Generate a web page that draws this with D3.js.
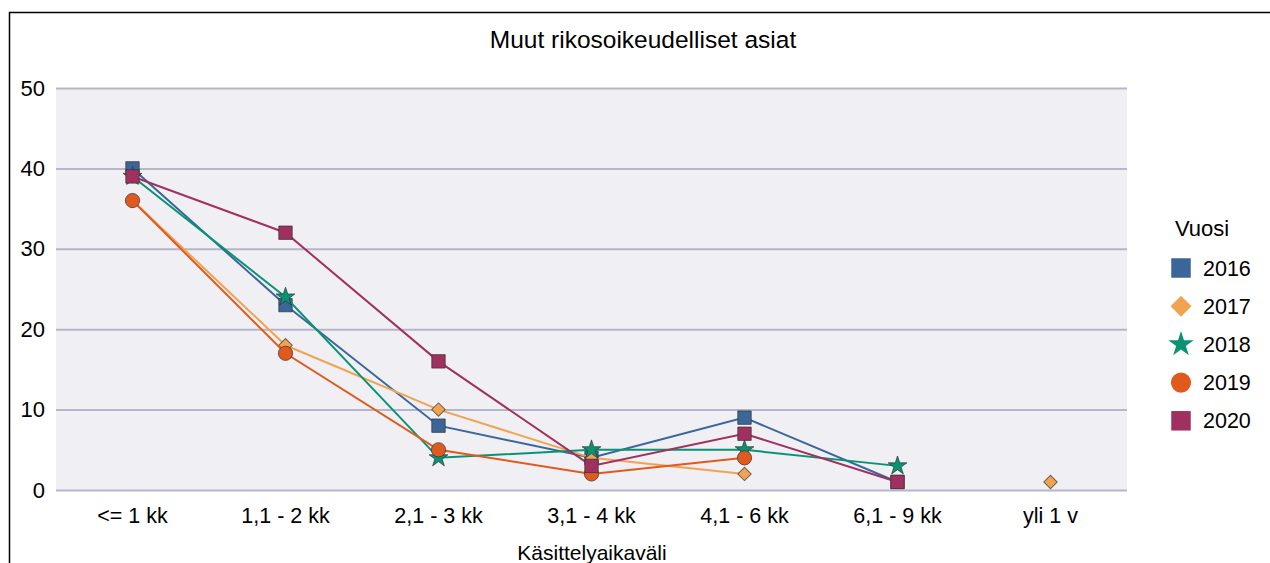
<!DOCTYPE html>
<html><head><meta charset="utf-8">
<script src="https://cdn.jsdelivr.net/npm/d3@7"></script>
<style>body{margin:0;background:#fff}svg{display:block;font-family:"Liberation Sans",Arial,sans-serif}</style>
</head><body><svg id="c" width="1270" height="563"></svg>
<script>
const categories = ["<= 1 kk","1,1 - 2 kk","2,1 - 3 kk","3,1 - 4 kk","4,1 - 6 kk","6,1 - 9 kk","yli 1 v"];
const years = ["2016","2017","2018","2019","2020"];
const v2016 = [40,23,8,4,9,1,null];
const v2017 = [36,18,10,4,2,null,1];
const v2018 = [39,24,4,5,5,3,null];
const v2019 = [36,17,5,2,4,null,null];
const v2020 = [39,32,16,3,7,1,null];
const yTicks = [0,10,20,30,40,50];
const seriesValues = [v2016,v2017,v2018,v2019,v2020];
const colors = ["#3a6699","#f0a451","#0a9373","#e05a1e","#a0305f"];
const symbols = [d3.symbolSquare,d3.symbolSquare,d3.symbolStar,d3.symbolCircle,d3.symbolSquare];
const rot = [0,45,0,0,0];
const sizes = [180,90,110,160,180];
const legSizes = [380,220,200,320,380];

const svg = d3.select("#c");
const L=56,R=1127,T=88,B=490;
const x = d3.scaleBand().domain(categories).range([L,R]);
const y = d3.scaleLinear().domain([0,50]).range([B,T]);

svg.append("rect").attr("x",L).attr("y",T).attr("width",R-L).attr("height",B-T).attr("fill","#efeff4");
svg.append("path").attr("d","M9.5,563 V12.5 H1270").attr("fill","none").attr("stroke","#000").attr("stroke-width",1.5);

const yAxis = svg.append("g").attr("transform",`translate(${L},0)`).call(d3.axisLeft(y).tickValues(yTicks).tickSize(-(R-L)).tickPadding(11));
yAxis.select(".domain").remove();
yAxis.selectAll("line").attr("stroke","#b6b6cb").attr("stroke-width",2);
yAxis.selectAll("text").attr("font-size",22).attr("fill","#000").attr("font-family","Liberation Sans, Arial, sans-serif");

const xAxis = svg.append("g").attr("transform",`translate(0,${B})`).call(d3.axisBottom(x).tickSize(0).tickPadding(18));
xAxis.select(".domain").remove();
xAxis.selectAll("text").attr("font-size",21.5).attr("fill","#000").attr("font-family","Liberation Sans, Arial, sans-serif");

svg.append("text").attr("x",643).attr("y",48).attr("text-anchor","middle").attr("font-size",24.5).text("Muut rikosoikeudelliset asiat");
svg.append("text").attr("x",592).attr("y",560).attr("text-anchor","middle").attr("font-size",21).text("Käsittelyaikaväli");

const cx = c => x(c)+x.bandwidth()/2;
const line = d3.line().defined(d=>d.v!=null).x(d=>cx(d.c)).y(d=>y(d.v));
seriesValues.forEach((vals,i)=>{
  const pts = categories.map((c,j)=>({c,v:vals[j]}));
  const g = svg.append("g");
  g.append("path").datum(pts).attr("d",line).attr("fill","none").attr("stroke",colors[i]).attr("stroke-width",2);
  g.selectAll("path.m").data(pts.filter(d=>d.v!=null)).join("path").attr("class","m")
    .attr("d",d3.symbol().type(symbols[i]).size(sizes[i]))
    .attr("transform",d=>`translate(${cx(d.c)},${y(d.v)}) rotate(${rot[i]})`)
    .attr("fill",colors[i]).attr("stroke","#333").attr("stroke-opacity",0.7).attr("stroke-width",1);
});

svg.append("text").attr("x",1175).attr("y",236).attr("font-size",22).text("Vuosi");
years.forEach((yr,i)=>{
  const yy = 268+i*38.2;
  svg.append("path").attr("d",d3.symbol().type(symbols[i]).size(legSizes[i])).attr("transform",`translate(1181,${yy}) rotate(${rot[i]})`).attr("fill",colors[i]);
  svg.append("text").attr("x",1203).attr("y",yy+7.5).attr("font-size",21.5).text(yr);
});
</script></body></html>
